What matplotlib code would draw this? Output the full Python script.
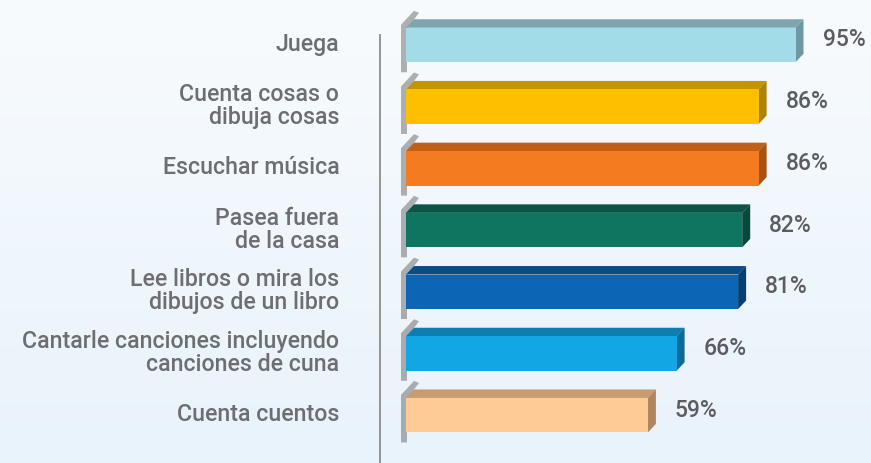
import numpy as np
import matplotlib.pyplot as plt
from matplotlib.patches import Polygon
from matplotlib.lines import Line2D

# datos del grafico
categorias = ['Juega', 'Cuenta cosas o\ndibuja cosas', 'Escuchar música',
              'Pasea fuera\nde la casa', 'Lee libros o mira los\ndibujos de un libro',
              'Cantarle canciones incluyendo\ncanciones de cuna', 'Cuenta cuentos']
valores = [95, 86, 86, 82, 81, 66, 59]
colores = ['#a3dce9', '#fdbf00', '#f47b20', '#0e7561', '#0d65b5', '#12a7e4', '#fecb97']
colores_top = ['#7fa6ae', '#c49400', '#c25f17', '#0a5546', '#0a4c88', '#0e7db0', '#c89c70']
colores_lado = ['#6f98a6', '#ac8300', '#a9520f', '#08493c', '#083f73', '#0b6a96', '#b08660']

W, H = 871, 463
plt.rcParams['font.family'] = ['Roboto', 'DejaVu Sans']
fig = plt.figure(figsize=(W / 100, H / 100), dpi=100)

# fondo degradado
bg = fig.add_axes([0, 0, 1, 1], zorder=-10)
grad = np.linspace(0, 1, 256).reshape(-1, 1)
c1 = np.array([0xf8, 0xfb, 0xfd]) / 255
c2 = np.array([0xe9, 0xf3, 0xfb]) / 255
img = c1 + (c2 - c1) * grad[..., None]
bg.imshow(img, aspect='auto', extent=[0, 1, 0, 1])
bg.axis('off')

x0_px = 406
ppu_x = 4.1          # pixeles por punto porcentual
y0_px, paso = 45, 61.7
ax = fig.add_axes([x0_px / W, 0, (W - x0_px) / W, 1])
ax.set_xlim(0, (W - x0_px) / ppu_x)
ax.set_ylim((H - y0_px) / paso, -y0_px / paso)
ax.patch.set_alpha(0)
for s in ax.spines.values():
    s.set_visible(False)

alto = 34.5 / paso
dx = 8 / ppu_x
dy = 8.5 / paso
px = 1 / ppu_x
py = 1 / paso

y = np.arange(len(valores))
ax.barh(y, valores, height=alto, color=colores, zorder=3)

for i, v in enumerate(valores):
    top = i - alto / 2
    bot = i + alto / 2
    # sombra sobre la pared
    ax.add_patch(Polygon([(-5 * px, bot + 10 * py), (-5 * px, top - 3 * py),
                          (8 * px, top - 17 * py), (13 * px, top - 15 * py),
                          (1 * px, top + 1 * py), (1 * px, bot + 10 * py)],
                         closed=True, color='#555555', alpha=0.45, lw=0, zorder=1,
                         clip_on=False))
    # cara superior
    ax.add_patch(Polygon([(0, top), (dx, top - dy), (v + dx, top - dy), (v, top)],
                         closed=True, color=colores_top[i], lw=0, zorder=2))
    # cara lateral
    ax.add_patch(Polygon([(v, top), (v + dx, top - dy), (v + dx, bot - dy), (v, bot)],
                         closed=True, color=colores_lado[i], lw=0, zorder=2))
    ax.text(v + 27 * px, i - 5 * py, f'{v}%', va='center', ha='left',
            fontsize=16.5, color='#5c5c60', fontweight='medium', zorder=5)

ax.set_xticks([])
ax.set_yticks(y - 3 * py, categorias)
ax.tick_params(axis='y', length=0, pad=48)
for lab in ax.get_yticklabels():
    lab.set_fontsize(16.7)
    lab.set_color('#6e6e72')
    lab.set_fontweight('medium')
    lab.set_linespacing(1.0)

# linea vertical
fig.add_artist(Line2D([380 / W, 380 / W], [0, 1 - 35 / H], color='#8c8c8c', lw=1.3))

fig.savefig('out.png', dpi=100)
